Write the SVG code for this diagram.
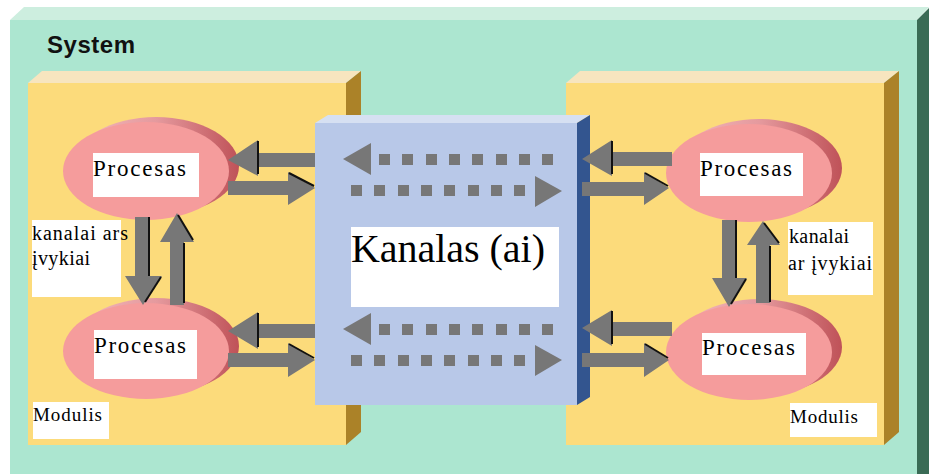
<svg xmlns="http://www.w3.org/2000/svg" width="929" height="474" viewBox="0 0 929 474">
<defs>
<linearGradient id="rim" x1="0" y1="0" x2="1" y2="0">
<stop offset="0" stop-color="#f4b9bc"/>
<stop offset="0.5" stop-color="#e59a9e"/>
<stop offset="1" stop-color="#bf5258"/>
</linearGradient>
<style>
.sysF{fill:#ace6d0}.sysT{fill:#cdeedf}.sysS{fill:#3a6b55}
.modF{fill:#fcdb7b}.modT{fill:#f7e5bf}.modS{fill:#ab8228}
.chF{fill:#b8c8e8}.chT{fill:#d6e0f2}.chS{fill:#33558f}
.dot{fill:#777}
.arr{fill:#777}
.edge{stroke:#111;stroke-width:2;fill:none}
.front{fill:#f59c9c}
.box{fill:#fff}
.ser{font-family:"Liberation Serif","Times New Roman",serif;fill:#000}
</style>
</defs>
<rect width="929" height="474" fill="#fff"/>
<g id="system">
<polygon class="sysT" points="10,20 24,7 929,7 917,20"/>
<polygon class="sysS" points="917,20 929,8 929,474 917,474"/>
<rect class="sysF" x="10" y="20" width="907" height="454"/>
<text x="47" y="53" font-family="Liberation Sans,Arial,sans-serif" font-weight="bold" font-size="24" textLength="88" fill="#111">System</text>
</g>
<g id="module-left">
<polygon class="modT" points="28,83 42,71 361,71 346,83"/>
<polygon class="modS" points="346,83 361,71 361,432 346,445"/>
<rect class="modF" x="28" y="83" width="318" height="362"/>
<rect class="box" x="33" y="402" width="76" height="37"/>
<text class="ser" x="33" y="421" font-size="19" textLength="69">Modulis</text>
</g>
<g id="module-right">
<polygon class="modT" points="566,83 580,71 899,71 884,83"/>
<polygon class="modS" points="884,83 899,71 899,432 884,445"/>
<rect class="modF" x="566" y="83" width="318" height="362"/>
<rect class="box" x="790" y="403" width="87" height="34"/>
<text class="ser" x="790" y="423" font-size="19" textLength="68">Modulis</text>
</g>
<g id="channel">
<polygon class="chT" points="315,123 328,115 590,115 577,123"/>
<polygon class="chS" points="577,123 590,115 590,397 577,405"/>
<rect class="chF" x="315" y="123" width="262" height="282"/>
<g class="dot">
<polygon points="343,159 371,143 371,175"/>
<rect x="379" y="154" width="11" height="11"/><rect x="402" y="154" width="11" height="11"/><rect x="426" y="154" width="11" height="11"/><rect x="449" y="154" width="11" height="11"/><rect x="472" y="154" width="11" height="11"/><rect x="496" y="154" width="11" height="11"/><rect x="519" y="154" width="11" height="11"/><rect x="542" y="154" width="11" height="11"/>
<rect x="351" y="185" width="11" height="11"/><rect x="374" y="185" width="11" height="11"/><rect x="398" y="185" width="11" height="11"/><rect x="421" y="185" width="11" height="11"/><rect x="444" y="185" width="11" height="11"/><rect x="468" y="185" width="11" height="11"/><rect x="491" y="185" width="11" height="11"/><rect x="514" y="185" width="11" height="11"/>
<polygon points="535,176 535,207 562,191"/>
<polygon points="343,329 371,313 371,345"/>
<rect x="379" y="324" width="11" height="11"/><rect x="402" y="324" width="11" height="11"/><rect x="426" y="324" width="11" height="11"/><rect x="449" y="324" width="11" height="11"/><rect x="472" y="324" width="11" height="11"/><rect x="496" y="324" width="11" height="11"/><rect x="519" y="324" width="11" height="11"/><rect x="542" y="324" width="11" height="11"/>
<rect x="351" y="355" width="11" height="11"/><rect x="374" y="355" width="11" height="11"/><rect x="398" y="355" width="11" height="11"/><rect x="421" y="355" width="11" height="11"/><rect x="444" y="355" width="11" height="11"/><rect x="468" y="355" width="11" height="11"/><rect x="491" y="355" width="11" height="11"/><rect x="514" y="355" width="11" height="11"/>
<polygon points="535,345 535,376 562,360"/>
</g>
<rect class="box" x="351" y="227" width="208" height="80"/>
<text class="ser" x="351" y="262" font-size="40" textLength="194">Kanalas (ai)</text>
</g>
<g id="proc-left-top">
<ellipse cx="156" cy="166" rx="83" ry="49" fill="url(#rim)"/>
<ellipse class="front" cx="146" cy="171" rx="83" ry="49"/>
<rect class="box" x="93" y="153" width="106" height="44"/>
<text class="ser" x="93" y="176" font-size="23" textLength="93">Procesas</text>
</g>
<g id="proc-left-bottom">
<ellipse cx="156" cy="346" rx="83" ry="48" fill="url(#rim)"/>
<ellipse class="front" cx="146" cy="351" rx="83" ry="48"/>
<rect class="box" x="94" y="330" width="103" height="49"/>
<text class="ser" x="94" y="353" font-size="23" textLength="92">Procesas</text>
</g>
<g id="proc-right-top">
<ellipse cx="759" cy="168" rx="83" ry="49" fill="url(#rim)"/>
<ellipse class="front" cx="749" cy="173" rx="83" ry="49"/>
<rect class="box" x="700" y="153" width="103" height="43"/>
<text class="ser" x="700" y="176" font-size="23" textLength="92">Procesas</text>
</g>
<g id="proc-right-bottom">
<ellipse cx="759" cy="347" rx="83" ry="48" fill="url(#rim)"/>
<ellipse class="front" cx="749" cy="352" rx="83" ry="48"/>
<rect class="box" x="702" y="333" width="104" height="42"/>
<text class="ser" x="702" y="355" font-size="23" textLength="93">Procesas</text>
</g>
<g id="connectors">
<g class="arr">
<path d="M315,153 L258,153 L258,140 L228,160 L258,176 L258,167 L315,167 Z"/>
<path d="M228,181 L288,181 L288,172 L315,188 L288,205 L288,195 L228,195 Z"/>
<path d="M315,324 L258,324 L258,312 L228,331 L258,349 L258,338 L315,338 Z"/>
<path d="M228,353 L288,353 L288,343 L315,360 L288,377 L288,367 L228,367 Z"/>
<path d="M672,152 L612,152 L612,140 L582,159 L612,176 L612,166 L672,166 Z"/>
<path d="M582,182 L644,182 L644,172 L669,188 L644,205 L644,196 L582,196 Z"/>
<path d="M672,322 L612,322 L612,310 L582,328 L612,346 L612,336 L672,336 Z"/>
<path d="M582,353 L644,353 L644,343 L669,360 L644,377 L644,367 L582,367 Z"/>
<path d="M135,217 L135,276 L125,276 L143,305 L162,276 L149,276 L149,217 Z"/>
<path d="M170,305 L170,242 L160,242 L177,213 L194,242 L184,242 L184,305 Z"/>
<path d="M722,220 L722,278 L712,278 L729,307 L747,278 L736,278 L736,220 Z"/>
<path d="M756,303 L756,245 L747,245 L763,221 L780,245 L770,245 L770,303 Z"/>
</g>
<g class="edge">
<path d="M258,141 L258,174"/>
<path d="M289,173 L314,186"/>
<path d="M258,313 L258,347"/>
<path d="M289,344 L314,358"/>
<path d="M612,141 L612,174"/>
<path d="M645,173 L668,186"/>
<path d="M612,311 L612,344"/>
<path d="M645,344 L668,358"/>
<path d="M149,217 L149,276"/><path d="M161,277 L145,302"/>
<path d="M178,215 L193,240"/><path d="M184,243 L184,303"/>
<path d="M736,220 L736,278"/><path d="M746,279 L731,304"/>
<path d="M764,223 L779,243"/><path d="M770,246 L770,302"/>
</g>
</g>
<g id="labels">
<rect class="box" x="32" y="220" width="89" height="77"/>
<text class="ser" x="32" y="240" font-size="20" textLength="96">kanalai ars</text>
<text class="ser" x="32" y="265" font-size="20" textLength="58">įvykiai</text>
<rect class="box" x="788" y="222" width="85" height="73"/>
<text class="ser" x="789" y="243" font-size="20" textLength="60">kanalai</text>
<text class="ser" x="788" y="270" font-size="20" textLength="84">ar įvykiai</text>
</g>
</svg>
